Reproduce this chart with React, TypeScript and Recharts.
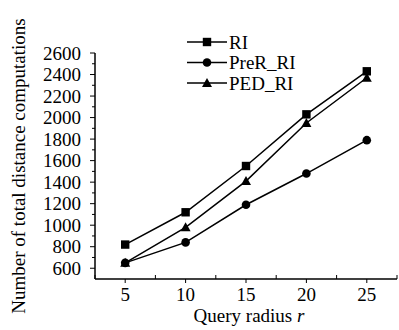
import React from 'react';
import { LineChart, Line, XAxis, YAxis, Legend } from 'recharts';

const radii = [5, 10, 15, 20, 25];
const riValues = [820, 1120, 1550, 2030, 2430];
const preRValues = [650, 840, 1190, 1480, 1790];
const pedValues = [650, 980, 1410, 1950, 2370];
const yTicks = [600, 700, 800, 900, 1000, 1100, 1200, 1300, 1400, 1500, 1600, 1700, 1800, 1900, 2000, 2100, 2200, 2300, 2400, 2500, 2600];
const xTicks = [2.5, 5, 7.5, 10, 12.5, 15, 17.5, 20, 22.5, 25, 27.5];
const seriesNames = ['RI', 'PreR_RI', 'PED_RI'];

const data = radii.map((r, i) => ({ r, RI: riValues[i], PreR_RI: preRValues[i], PED_RI: pedValues[i] }));

const FONT = '"Liberation Serif", "Times New Roman", Times, serif';
const FS = 19;
const txt = { fontFamily: FONT, fontSize: FS, fill: '#000' } as const;

const Marker = ({ kind, cx, cy }: any) => {
  if (cx == null || cy == null) return null;
  if (kind === 'square') return <rect x={cx - 4.2} y={cy - 4.2} width={8.4} height={8.4} fill="#000" />;
  if (kind === 'circle') return <circle cx={cx} cy={cy} r={4.3} fill="#000" />;
  return <polygon points={`${cx},${cy - 5} ${cx - 5},${cy + 4} ${cx + 5},${cy + 4}`} fill="#000" />;
};

const kinds = ['square', 'circle', 'triangle'];

const YTick = (props: any) => {
  const { x, y, payload } = props;
  const v = payload.value;
  const major = v % 200 === 0;
  return (
    <g>
      <line x1={x - (major ? 5 : 3)} x2={x} y1={y} y2={y} stroke="#000" strokeWidth={1} />
      {major && (
        <text x={x - 14} y={y} dy="0.35em" textAnchor="end" style={txt}>
          {v}
        </text>
      )}
    </g>
  );
};

const XTick = (props: any) => {
  const { x, y, payload } = props;
  const v = payload.value;
  const major = v % 5 === 0;
  return (
    <g>
      {major ? (
        <line x1={x} x2={x} y1={y} y2={y + 4} stroke="#000" strokeWidth={1} />
      ) : (
        <line x1={x} x2={x} y1={y} y2={y - 4} stroke="#000" strokeWidth={1} />
      )}
      {major && (
        <text x={x} y={y + 9} dy="0.71em" textAnchor="middle" style={txt}>
          {v}
        </text>
      )}
    </g>
  );
};

const LegendContent = () => (
  <svg width={170} height={66} style={{ display: 'block' }}>
    {seriesNames.map((n, i) => {
      const cy = 10 + i * 20.5;
      return (
        <g key={n}>
          <line x1={0} x2={40} y1={cy} y2={cy} stroke="#000" strokeWidth={1.5} />
          <Marker kind={kinds[i]} cx={20} cy={cy} />
          <text x={42} y={cy} dy="0.35em" style={txt}>
            {n}
          </text>
        </g>
      );
    })}
  </svg>
);

export default function App() {
  return (
    <div style={{ position: 'absolute', left: 0, top: 0, width: 399, height: 330, background: '#fff' }}>
      <LineChart width={399} height={330} data={data} margin={{ top: 53, right: 2, bottom: 11, left: 10 }}>
        <XAxis
          dataKey="r"
          type="number"
          domain={[2.5, 27.5]}
          ticks={xTicks}
          interval={0}
          tick={<XTick />}
          tickLine={false}
          tickSize={0}
          tickMargin={0}
          height={40}
          axisLine={{ stroke: '#000', strokeWidth: 1.5 }}
          label={(p: any) => {
            const vb = p.viewBox;
            return (
              <text x={vb.x + vb.width / 2 + 3} y={vb.y + 43} textAnchor="middle" style={txt}>
                Query radius <tspan fontStyle="italic">r</tspan>
              </text>
            );
          }}
        />
        <YAxis
          type="number"
          domain={[500, 2600]}
          ticks={yTicks}
          interval={0}
          tick={<YTick />}
          tickLine={false}
          tickSize={0}
          tickMargin={0}
          width={85}
          axisLine={{ stroke: '#000', strokeWidth: 1.5 }}
          label={(p: any) => {
            const vb = p.viewBox;
            const cx = vb.x + 8;
            const cy = vb.y + vb.height / 2;
            return (
              <text x={cx} y={cy} transform={`rotate(-90 ${cx} ${cy})`} textAnchor="middle" dy="0.35em" style={txt}>
                Number of total distance computations
              </text>
            );
          }}
        />
        <Legend
          layout="vertical"
          align="center"
          verticalAlign="middle"
          content={<LegendContent />}
          wrapperStyle={{ position: 'absolute', left: 187, top: 32, width: 170, height: 66 }}
        />
        {seriesNames.map((n, i) => (
          <Line
            key={n}
            dataKey={n}
            name={n}
            stroke="#000"
            strokeWidth={1.5}
            isAnimationActive={false}
            dot={(p: any) => <Marker key={`${n}-${p.index}`} kind={kinds[i]} cx={p.cx} cy={p.cy} />}
            activeDot={false}
          />
        ))}
      </LineChart>
    </div>
  );
}
